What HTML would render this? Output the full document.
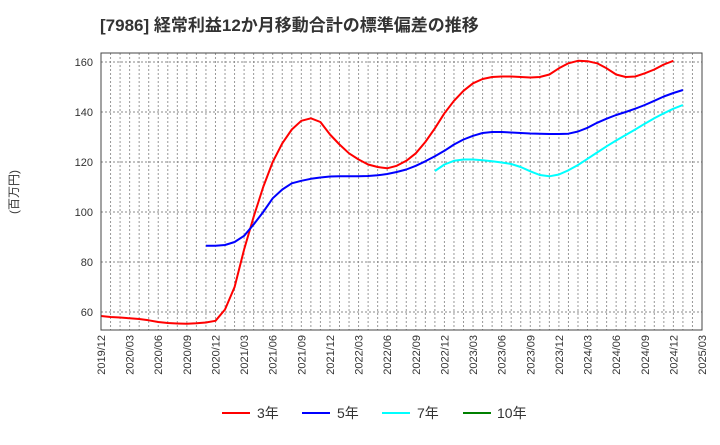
<!DOCTYPE html>
<html><head><meta charset="utf-8"><style>
body{margin:0;background:#fff;font-family:"Liberation Sans","Noto Sans CJK JP",sans-serif;}
</style></head><body>
<svg id="chart" width="720" height="440" xmlns="http://www.w3.org/2000/svg" font-family="Liberation Sans, Noto Sans CJK JP, sans-serif">
<text x="100" y="31" font-size="17" font-weight="bold" fill="#333">[7986]  経常利益12か月移動合計の標準偏差の推移</text>
<text transform="translate(18,192) rotate(-90)" text-anchor="middle" font-size="12" fill="#333">(百万円)</text>
<g id="grid"></g><g id="series"></g><g id="axes"></g>
<g font-size="14" fill="#333">
<line x1="222" y1="413" x2="250" y2="413" stroke="#ff0000" stroke-width="2"/><text x="257" y="418">3年</text>
<line x1="302" y1="413" x2="330" y2="413" stroke="#0000ff" stroke-width="2"/><text x="337" y="418">5年</text>
<line x1="382" y1="413" x2="410" y2="413" stroke="#00ffff" stroke-width="2"/><text x="417" y="418">7年</text>
<line x1="463" y1="413" x2="491" y2="413" stroke="#008000" stroke-width="2"/><text x="497" y="418">10年</text>
</g>
</svg>
<script>
const xLabels=["2019/12","2020/03","2020/06","2020/09","2020/12","2021/03","2021/06","2021/09","2021/12","2022/03","2022/06","2022/09","2022/12","2023/03","2023/06","2023/09","2023/12","2024/03","2024/06","2024/09","2024/12","2025/03"];
const yTicks=[60,80,100,120,140,160];
const s3Start=0;
const s3=[58.4,58,57.8,57.5,57.2,56.7,56,55.6,55.4,55.3,55.5,55.8,56.5,61,70,85,98,110,120,127.5,133,136.5,137.5,136,131,127,123.5,121,119,118,117.5,118.5,120.5,123.5,128,133.5,139.5,144.5,148.5,151.5,153.2,154,154.2,154.2,154,153.8,154,155,157.5,159.5,160.5,160.3,159.5,157.5,155,154,154.2,155.5,157,159,160.5];
const s5Start=11;
const s5=[86.5,86.5,86.8,88,90.5,95,100,105.5,109,111.5,112.5,113.3,113.8,114.2,114.3,114.3,114.3,114.4,114.7,115.2,116,117,118.5,120.3,122.3,124.5,127,129,130.5,131.6,132,132,131.8,131.6,131.4,131.3,131.2,131.2,131.3,132.2,133.7,135.7,137.3,138.8,140,141.3,142.8,144.5,146.2,147.6,148.8];
const s7Start=35;
const s7=[116.4,119,120.5,121,121,120.7,120.3,119.8,119.2,118,116.3,114.8,114.3,115,116.7,118.8,121.3,123.8,126.3,128.6,130.8,133,135.3,137.5,139.5,141.3,142.8];
const L=101,R=702,T=53,B=330;
const nMonths=63;
const x=i=>L+i*(R-L)/nMonths;
const y=v=>312-(v-60)*2.5;
const NS="http://www.w3.org/2000/svg";
function mk(t,p,a){const e=document.createElementNS(NS,t);for(const k in a)e.setAttribute(k,a[k]);p.appendChild(e);return e;}
const grid=document.getElementById('grid'),axes=document.getElementById('axes'),ser=document.getElementById('series');
for(let i=1;i<nMonths;i++){const g=mk('line',grid,{x1:x(i),x2:x(i),y1:T,y2:B,stroke:'#999','stroke-dasharray':'2,2','stroke-width':1});

}
yTicks.forEach(v=>{const g=mk('line',grid,{x1:L,x2:R,y1:y(v),y2:y(v),stroke:'#888','stroke-dasharray':'2,2','stroke-width':1});


const t=mk('text',axes,{x:L-8,y:y(v)+4,'text-anchor':'end','font-size':11,fill:'#333'});t.textContent=v;

});
const box=mk('rect',axes,{x:L,y:T,width:R-L,height:B-T,fill:'none',stroke:'#444','stroke-width':1});


xLabels.forEach((lb,k)=>{const xx=x(k*3);const t=mk('text',axes,{transform:`translate(${xx+4},${B+5}) rotate(-90)`,'text-anchor':'end','font-size':11,fill:'#333'});t.textContent=lb;

});
function line(arr,start,color,name){const d=arr.map((v,j)=>(j?'L':'M')+x(start+j).toFixed(1)+','+y(v).toFixed(1)).join(' ');
const p=mk('path',ser,{d:d,fill:'none',stroke:color,'stroke-width':2,'stroke-linejoin':'round'});

}
line(s3,s3Start,'#ff0000','series-3y');
line(s5,s5Start,'#0000ff','series-5y');
line(s7,s7Start,'#00ffff','series-7y');
</script>
</body></html>
